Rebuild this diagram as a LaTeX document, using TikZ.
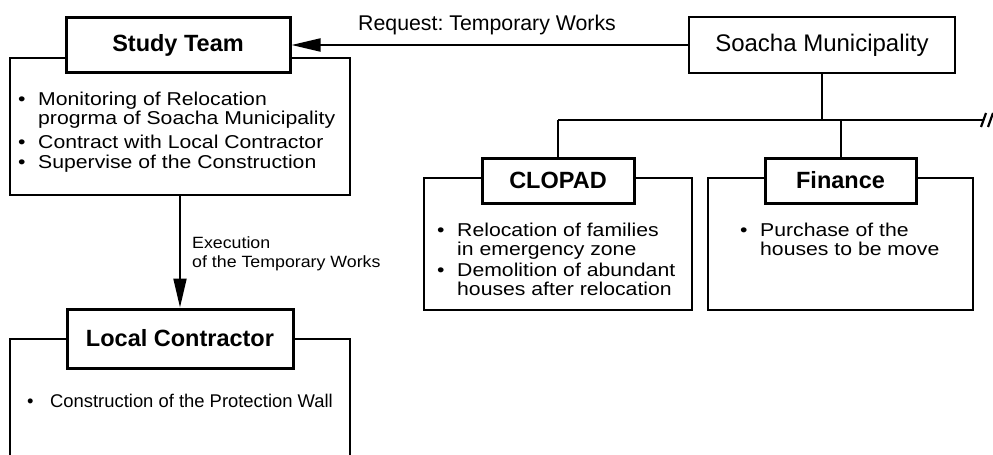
\documentclass[tikz,border=0pt]{standalone}
\usepackage{fontspec}
\setmainfont{Liberation Sans}
\newfontfamily\listfont{Liberation Sans}[FakeStretch=1.14]
\newfontfamily\execfont{Liberation Sans}[FakeStretch=1.09]
\usetikzlibrary{arrows.meta}
\tikzset{
  headbox/.style={draw, line width=3pt, fill=white, inner sep=0pt, font=\bfseries\fontsize{23.5}{28}\selectfont},
  bodybox/.style={draw, line width=2pt, inner sep=0pt},
  listtxt/.style={anchor=north west, align=left, inner sep=0pt, font=\listfont\fontsize{18.6}{19.5}\selectfont},
  link/.style={line width=2pt},
  flow/.style={line width=2pt, -{Triangle[length=29pt,width=13pt]}},
}
\newcommand{\bul}{\rule{0pt}{20pt}\makebox[20pt][l]{\textbullet}}
\newcommand{\ind}{\hspace*{20pt}}
\begin{document}
\frenchspacing
\lineskiplimit=-20pt
\begin{tikzpicture}[x=1pt,y=-1pt]
  \clip (0,0) rectangle (993,455);
  % study team
  \node[bodybox, minimum width=340pt, minimum height=137pt] (studybody) at (180,126.5) {};
  \node[headbox, minimum width=224pt, minimum height=55pt] (study) at (178,45) {Study Team};
  \node[listtxt] (studytxt) at (18,85) {\bul Monitoring of Relocation\\
    \ind progrma of Soacha Municipality\\[4.5pt]
    \bul Contract with Local Contractor\\[0.5pt]
    \bul Supervise of the Construction};
  % local contractor
  \node[bodybox, minimum width=340pt, minimum height=131pt] (localbody) at (180,404.5) {};
  \node[headbox, minimum width=226pt, minimum height=59pt] (local) at (180,338.5) {Local Contractor};
  \node[anchor=north west, inner sep=0pt, font=\fontsize{18.4}{20}\selectfont] (localtxt) at (27,387)
    {\rule{0pt}{20pt}\makebox[23pt][l]{\textbullet}Construction of the Protection Wall};
  \draw[flow] (studybody.south) -- (local.north);
  \node[anchor=north west, align=left, inner sep=0pt, font=\execfont\fontsize{16.3}{19}\selectfont] (execlbl) at (192,228)
    {\rule{0pt}{20pt}Execution\\of the Temporary Works};
  % soacha
  \node[draw, line width=2.4pt, minimum width=266pt, minimum height=56pt, inner sep=0pt,
    font=\fontsize{24}{28}\selectfont] (soacha) at (822,45) {Soacha Municipality};
  \draw[flow] (soacha.west) -- (study.east);
  \node[anchor=base west, inner sep=0pt, font=\fontsize{21.3}{24}\selectfont] (reqlbl) at (358,30) {Request: Temporary Works};
  % clopad and finance
  \node[bodybox, minimum width=268pt, minimum height=132pt] (clopadbody) at (558,244) {};
  \node[headbox, minimum width=152pt, minimum height=45pt] (clopad) at (558,180.5) {CLOPAD};
  \node[listtxt, font=\listfont\fontsize{18.6}{19}\selectfont] (clopadtxt) at (437,216) {\bul Relocation of families\\
    \ind in emergency zone\\[2pt]
    \bul Demolition of abundant\\
    \ind houses after relocation};
  \node[bodybox, minimum width=265pt, minimum height=132pt] (financebody) at (840.5,244) {};
  \node[headbox, minimum width=151pt, minimum height=45pt] (finance) at (840.5,180.5) {Finance};
  \node[listtxt, font=\listfont\fontsize{18.6}{19}\selectfont] (financetxt) at (740,216) {\bul Purchase of the\\
    \ind houses to be move};
  % bus line
  \coordinate (busL) at (558,120);
  \coordinate (busR) at (983,120);
  \draw[link] (soacha.south) -- (soacha.south |- busR);
  \draw[link] (busL) -- (busR);
  \draw[link] (busL) -- (clopad.north);
  \draw[link] (finance.north |- busL) -- (finance.north);
  \draw[line width=2.2pt] ([shift={(-2,7)}]busR) -- ++(5,-14);
  \draw[line width=2.2pt] ([shift={(5,7)}]busR) -- ++(5,-14);
\end{tikzpicture}
\end{document}
